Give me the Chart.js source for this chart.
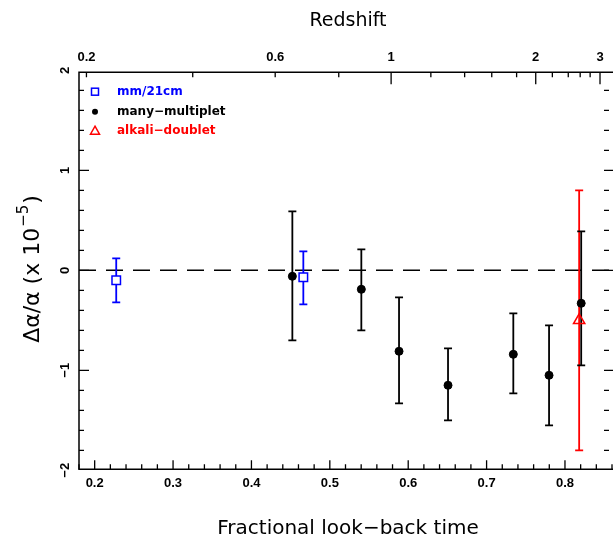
<!DOCTYPE html>
<html>
<head>
<meta charset="utf-8">
<script src="https://cdn.jsdelivr.net/npm/chart.js@4.4.1/dist/chart.umd.min.js"></script>
<style>
    html, body { margin: 0; padding: 0; background: #fff; overflow: hidden; width: 613px; height: 540px; }
    #chart { display: block; }
</style>
</head>
<body>
<canvas id="chart" width="620" height="540"></canvas>
<script>
// fractional look-back time of each absorber, value of da/a (x 1e-5) and its error range
const mm21Time  = [0.2275, 0.4662];
const mm21Value = [-0.10, -0.07];
const mm21Low   = [-0.32, -0.34];
const mm21High  = [0.12, 0.19];

const manyTime  = [0.4522, 0.5402, 0.5883, 0.6508, 0.7341, 0.7797, 0.8207];
const manyValue = [-0.06, -0.19, -0.81, -1.15, -0.84, -1.05, -0.33];
const manyLow   = [-0.70, -0.60, -1.33, -1.50, -1.23, -1.55, -0.95];
const manyHigh  = [0.59, 0.21, -0.27, -0.78, -0.43, -0.55, 0.39];

const alkaliTime  = [0.8181];
const alkaliValue = [-0.50];
const alkaliLow   = [-1.80];
const alkaliHigh  = [0.80];

// axis ticks
const xTickValues = [0.2, 0.3, 0.4, 0.5, 0.6, 0.7, 0.8];
const yTickValues = [2, 1, 0, -1, -2];
const redshiftLabels    = ['0.2', '0.6', '1', '2', '3'];
const redshiftLabelTime = [0.1895, 0.4303, 0.5782, 0.7627, 0.8447];
const redshiftTickTime  = [0.1895, 0.3251, 0.4303, 0.5114, 0.5782, 0.6289, 0.6720, 0.7066,
                           0.7383, 0.7627, 0.7839, 0.8042, 0.8194, 0.8321, 0.8447];
const redshiftMajorTime = [0.5782, 0.7627, 0.8447];

function toPoints(xs, ys) {
    return xs.map((t, i) => ({ x: t, y: ys[i] }));
}

function fmtMinus(v) {
    return String(v).replace('-', '\u2212');
}

const framePlugin = {
    id: 'frame',
    beforeDatasetsDraw(chart) {
        const { ctx, chartArea: a, scales: { x, y } } = chart;
        ctx.save();
        // dashed zero line
        const y0 = y.getPixelForValue(0);
        ctx.strokeStyle = '#000';
        ctx.lineWidth = 1.6;
        ctx.setLineDash([17, 10]);
        ctx.beginPath();
        ctx.moveTo(a.left, y0);
        ctx.lineTo(a.right, y0);
        ctx.stroke();
        ctx.setLineDash([]);

        // error bars, red first so black lies over it
        const order = [2, 0, 1];
        order.forEach(di => {
            const ds = chart.data.datasets[di];
            ctx.strokeStyle = ds.borderColor;
            ctx.lineWidth = 1.8;
            ds.data.forEach((p, i) => {
                const px = x.getPixelForValue(p.x);
                const top = y.getPixelForValue(ds.high[i]);
                const bot = y.getPixelForValue(ds.low[i]);
                ctx.beginPath();
                ctx.moveTo(px, top); ctx.lineTo(px, bot);
                ctx.moveTo(px - 4, top); ctx.lineTo(px + 4, top);
                ctx.moveTo(px - 4, bot); ctx.lineTo(px + 4, bot);
                ctx.stroke();
            });
        });
        ctx.restore();
    },
    afterDatasetsDraw(chart) {
        const { ctx, chartArea: a, scales: { x, x2, y } } = chart;
        ctx.save();
        ctx.strokeStyle = '#000';
        ctx.fillStyle = '#000';
        ctx.lineWidth = 1.5;
        // left, top and bottom edges (right edge lies off the picture)
        ctx.beginPath();
        ctx.moveTo(a.right + 2, a.top);
        ctx.lineTo(a.left, a.top);
        ctx.lineTo(a.left, a.bottom);
        ctx.lineTo(a.right + 2, a.bottom);
        ctx.stroke();

        ctx.lineWidth = 1.3;
        ctx.beginPath();
        // bottom ticks
        for (let k = 9; k <= 43; k++) {
            const v = k / 50;
            const px = x.getPixelForValue(v);
            const len = (k % 5 === 0) ? 9 : 5;
            ctx.moveTo(px, a.bottom); ctx.lineTo(px, a.bottom - len);
        }
        // top (redshift) ticks
        redshiftTickTime.forEach(t => {
            const px = x2.getPixelForValue(t);
            const len = redshiftMajorTime.includes(t) ? 12 : 5;
            ctx.moveTo(px, a.top); ctx.lineTo(px, a.top + len);
        });
        // left and right ticks
        for (let k = -10; k <= 10; k++) {
            const v = k / 5;
            if (v < y.min || v > y.max) continue;
            const py = y.getPixelForValue(v);
            const len = (k % 5 === 0) ? 10 : 5;
            ctx.moveTo(a.left, py); ctx.lineTo(a.left + len, py);
            ctx.moveTo(604, py); ctx.lineTo(604 + (k % 5 === 0 ? 10 : 5), py);
        }
        ctx.stroke();

        // tick labels
        ctx.font = 'bold 13px "Liberation Sans"';
        ctx.textAlign = 'center';
        ctx.textBaseline = 'middle';
        xTickValues.forEach(v => {
            ctx.fillText(v.toFixed(1), x.getPixelForValue(v), 483);
        });
        redshiftLabels.forEach((lab, i) => {
            ctx.fillText(lab, x2.getPixelForValue(redshiftLabelTime[i]), 57);
        });
        yTickValues.forEach(v => {
            ctx.save();
            ctx.translate(65, y.getPixelForValue(v));
            ctx.rotate(-Math.PI / 2);
            ctx.fillText(fmtMinus(v), 0, 0);
            ctx.restore();
        });

        // axis titles
        ctx.font = '19px "DejaVu Sans"';
        ctx.fillText('Redshift', 348, 21);
        ctx.font = '20px "DejaVu Sans"';
        ctx.fillText('Fractional look\u2212back time', 348, 529);

        ctx.save();
        ctx.translate(33, 270);
        ctx.rotate(-Math.PI / 2);
        const mainFont = '22px "DejaVu Sans"';
        const supFont = '15px "DejaVu Sans"';
        const part1 = '\u0394\u03b1/\u03b1 (x 10';
        const part2 = '\u22125';
        const part3 = ')';
        ctx.font = mainFont;
        const w1 = ctx.measureText(part1).width;
        const w3 = ctx.measureText(part3).width;
        ctx.font = supFont;
        const w2 = ctx.measureText(part2).width;
        let cx = -(w1 + w2 + w3) / 2;
        ctx.textAlign = 'left';
        ctx.font = mainFont;
        ctx.fillText(part1, cx, 0);
        ctx.font = supFont;
        ctx.fillText(part2, cx + w1 + 1, -9);
        ctx.font = mainFont;
        ctx.fillText(part3, cx + w1 + w2 + 2, 0);
        ctx.restore();

        // legend
        const items = chart.data.datasets;
        const ly = [91.7, 111.7, 130.7];
        ctx.font = 'bold 12px "DejaVu Sans"';
        ctx.textAlign = 'left';
        items.forEach((ds, i) => {
            const cy = ly[i];
            ctx.strokeStyle = ds.borderColor;
            ctx.fillStyle = ds.borderColor;
            ctx.lineWidth = 1.5;
            if (ds.pointStyle === 'rect') {
                ctx.strokeRect(91.5, cy - 3.5, 7, 7);
            } else if (ds.pointStyle === 'circle') {
                ctx.beginPath();
                ctx.arc(95, cy, 3, 0, Math.PI * 2);
                ctx.fill();
            } else {
                ctx.beginPath();
                ctx.moveTo(95, cy - 4.5);
                ctx.lineTo(99.5, cy + 3.5);
                ctx.lineTo(90.5, cy + 3.5);
                ctx.closePath();
                ctx.stroke();
            }
            ctx.fillText(ds.label, 117, cy);
        });
        ctx.restore();
    }
};

const ctx = document.getElementById('chart').getContext('2d');
new Chart(ctx, {
    type: 'scatter',
    data: {
        datasets: [{
            label: 'mm/21cm',
            data: toPoints(mm21Time, mm21Value),
            low: mm21Low,
            high: mm21High,
            pointStyle: 'rect',
            pointRadius: 6,
            borderColor: '#0000ff',
            backgroundColor: '#ffffff',
            borderWidth: 1.5
        }, {
            label: 'many\u2212multiplet',
            data: toPoints(manyTime, manyValue),
            low: manyLow,
            high: manyHigh,
            pointStyle: 'circle',
            pointRadius: 4,
            borderColor: '#000000',
            backgroundColor: '#000000',
            borderWidth: 1
        }, {
            label: 'alkali\u2212doublet',
            data: toPoints(alkaliTime, alkaliValue),
            low: alkaliLow,
            high: alkaliHigh,
            pointStyle: 'triangle',
            pointRadius: 6.5,
            borderColor: '#ff0000',
            backgroundColor: 'rgba(0,0,0,0)',
            borderWidth: 1.5
        }]
    },
    options: {
        responsive: false,
        animation: false,
        events: [],
        layout: { padding: { left: 79, top: 72.3, right: 4.3, bottom: 70.7 } },
        scales: {
            x: { type: 'linear', min: 0.18, max: 0.86, display: false },
            x2: { type: 'linear', axis: 'x', position: 'top', min: 0.18, max: 0.86, display: false },
            y: { type: 'linear', min: -1.99, max: 1.98, display: false }
        },
        plugins: {
            legend: { display: false },
            tooltip: { enabled: false }
        }
    },
    plugins: [framePlugin]
});
</script>
</body>
</html>
